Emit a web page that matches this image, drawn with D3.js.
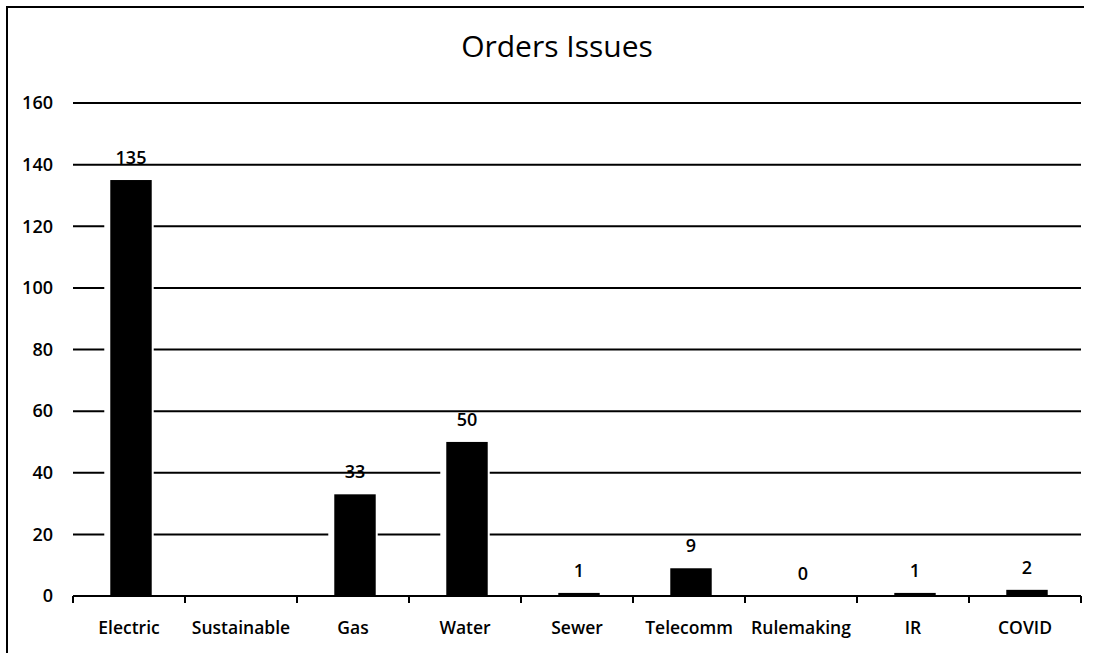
<!DOCTYPE html>
<html>
<head>
<meta charset="utf-8">
<script src="https://cdn.jsdelivr.net/npm/d3@7"></script>
<style>
  body { margin: 0; background: #fff; overflow: hidden; }
  text { font-family: "Open Sans", sans-serif; fill: #000; }
</style>
</head>
<body>
<div class="svgContainer"></div>
<script>
var w = 1102;
var h = 653;

var categories = ["Electric", "Sustainable", "Gas", "Water", "Sewer", "Telecomm", "Rulemaking", "IR", "COVID"];
var orders = [135, null, 33, 50, 1, 9, 0, 1, 2];
var yTicks = [0, 20, 40, 60, 80, 100, 120, 140, 160];

var plotLeft = 73, plotRight = 1081, plotTop = 103, plotBottom = 596;

var svg = d3.select(".svgContainer")
            .append("svg")
            .attr("width", w)
            .attr("height", h)
            .style("display", "block");

// frame of the scanned page: only top and left edges show
svg.append("path")
   .attr("d", "M7," + h + "V7H1084")
   .attr("fill", "none")
   .attr("stroke", "#000")
   .attr("stroke-width", 2);

svg.append("text")
   .attr("x", 557)
   .attr("y", 57)
   .attr("text-anchor", "middle")
   .style("font-size", "30px")
   .text("Orders Issues");

var xScale = d3.scaleBand()
               .domain(categories)
               .range([plotLeft, plotRight])
               .paddingInner(0.63)
               .paddingOuter(0.315);

var xTicks = d3.scaleBand().domain(categories).range([plotLeft, plotRight]);

var yScale = d3.scaleLinear()
               .domain([0, 160])
               .range([plotBottom, plotTop]);

// gridlines
svg.append("g")
   .selectAll("line")
   .data(yTicks.filter(d => d > 0))
   .enter()
   .append("line")
   .attr("x1", plotLeft).attr("x2", plotRight)
   .attr("y1", d => yScale(d)).attr("y2", d => yScale(d))
   .attr("stroke", "#000")
   .attr("stroke-width", 2);

// y labels
var yAxis = d3.axisLeft(yScale).tickValues(yTicks).tickSize(0).tickPadding(20);
var yg = svg.append("g")
   .attr("transform", "translate(" + plotLeft + ",0)")
   .call(yAxis);
yg.select(".domain").remove();
yg.selectAll("text")
  .style("font-size", "18px")
  .style("font-weight", "600")
  .style("font-family", "'Open Sans', sans-serif")
  .attr("fill", "#000");

var data = categories.map((c, i) => ({ cat: c, v: orders[i] }));
var shown = data.filter(d => d.v !== null);

// white halo around bars (gridlines break around them)
svg.append("g")
   .selectAll("rect")
   .data(shown.filter(d => d.v > 0))
   .enter()
   .append("rect")
   .attr("x", d => xScale(d.cat) - 4)
   .attr("y", d => yScale(d.v) - 2)
   .attr("width", xScale.bandwidth() + 8)
   .attr("height", d => plotBottom - yScale(d.v) + 1)
   .attr("fill", "#fff");

// x axis
var xAxis = d3.axisBottom(xTicks).tickSize(0).tickPadding(26);
var xg = svg.append("g")
   .attr("transform", "translate(0," + plotBottom + ")")
   .call(xAxis);
xg.select(".domain").attr("stroke", "#000").attr("stroke-width", 2)
  .attr("d", "M" + plotLeft + ",0H" + plotRight);
xg.selectAll("text")
  .style("font-size", "17.5px")
  .style("font-weight", "600")
  .style("font-family", "'Open Sans', sans-serif")
  .attr("fill", "#000");

svg.append("g")
   .selectAll("line")
   .data(d3.range(categories.length + 1))
   .enter()
   .append("line")
   .attr("x1", i => plotLeft + i * xTicks.step())
   .attr("x2", i => plotLeft + i * xTicks.step())
   .attr("y1", plotBottom).attr("y2", plotBottom + 7)
   .attr("stroke", "#000")
   .attr("stroke-width", 2);

// bars
svg.append("g")
   .selectAll("rect")
   .data(shown)
   .enter()
   .append("rect")
   .attr("x", d => xScale(d.cat) + 2)
   .attr("y", d => yScale(d.v))
   .attr("width", xScale.bandwidth())
   .attr("height", d => Math.max(plotBottom - yScale(d.v), 0))
   .attr("fill", "#000");

// value labels
svg.append("g")
   .selectAll("text")
   .data(shown)
   .enter()
   .append("text")
   .attr("x", d => xScale(d.cat) + xScale.bandwidth() / 2 + 2)
   .attr("y", d => yScale(d.v) - 16)
   .attr("text-anchor", "middle")
   .style("font-size", "18px")
   .style("font-weight", "600")
   .text(d => d.v);
</script>
</body>
</html>
